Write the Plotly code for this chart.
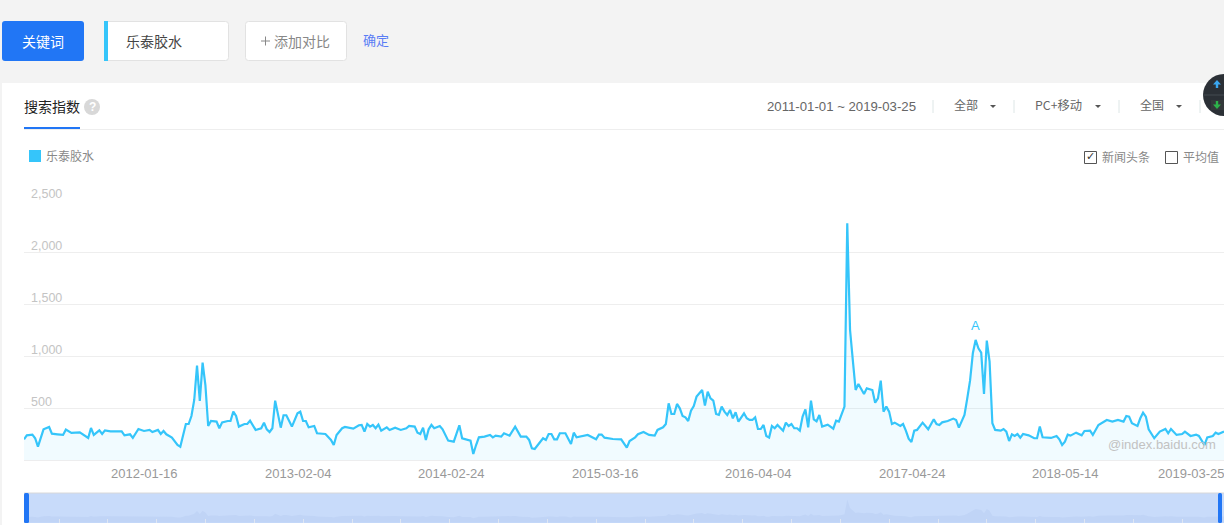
import pandas as pd
import plotly.graph_objects as go

W, H = 1224, 525

SERIES_NAME = "乐泰胶水"
START_MONDAY = "2010-12-27"
END_MONDAY = "2019-03-25"
WEEKS_A = [0,1,3,4,5,6,7,9,10,12,14,15,17,20,23,24,25,27,28,29,31,35,36,38,39,41,43,45,46,48,49,50,51,53,55,56,57,58,59,60,61,62,63,64,65,66,67,69,70,71,73,74,75,76,77,79,80,81,83,85,86,87,88,89,90,91,92,93,94,96,98,99,100,101,102,104,105,108,110,111,112,114,115,118,120,121,122,123,124,125,126,127,128,130,131,133,135,137]
VALUES_A = [202,240,247,212,131,221,298,320,256,250,244,295,263,269,215,311,244,288,253,288,279,279,240,250,215,301,282,292,272,292,253,282,250,218,147,131,228,349,349,426,580,910,570,939,724,330,378,372,308,365,378,378,468,426,324,349,349,381,292,308,362,298,272,308,574,436,314,433,433,324,452,468,378,378,317,330,260,253,196,147,244,308,320,304,337,340,276,349,324,340,308,343,285,317,292,314,292,308]
WEEKS_B = [138,140,141,142,143,144,145,146,147,149,150,152,154,156,157,160,161,162,163,165,167,168,169,171,172,174,176,178,180,181,182,183,185,186,187,188,189,190,191,192,194,196,197,198,202,205,206,207,208,211,214,216,217,219,220,222,224,226,227,229,230,231,232,233,234,235,236,237,238,239,240,241,243,244,245,246,247,248,249,250,251,252,253,254,255,256,258,259,260,261,262,263,264,265,266,267,268,269,270,272,273,274,275,276,277,278,279,280,281,282,283,284,285]
VALUES_B = [330,324,266,253,314,196,298,340,308,330,298,189,179,337,212,189,61,147,221,228,244,221,237,228,260,237,324,228,228,196,115,109,179,212,196,253,253,202,202,260,260,157,266,221,244,202,247,247,218,205,202,122,186,221,250,272,244,237,292,317,349,548,445,445,542,500,426,413,378,478,522,612,676,526,660,596,574,445,436,516,468,436,484,404,462,372,452,404,388,388,413,301,301,340,234,218,330,308,340,285,362,330,349,308,308,285,420,490,317,574,394,375,436]
WEEKS_C = [286,288,290,291,292,293,294,295,296,297,298,299,300,301,302,304,305,306,307,308,309,310,311,312,314,315,316,317,318,319,320,322,324,325,326,327,328,329,331,333,334,335,337,338,339,340,341,342,343,344,345,346,347,348,350,351,352,353,354,355,356,357,358,360,362,363,364,365,368,370,371,372,373,374,375,377,379,380,382,383,385,388,390,392,394,395,396,397,399,400,401,402,403,405,407,409,410,411,413,415,416,418,420,421,423,424,426,427,428,430]
VALUES_C = [324,343,304,381,372,445,516,2279,1253,960,676,734,692,638,692,676,554,596,766,468,516,468,349,362,330,349,285,208,176,285,292,362,298,349,394,349,340,365,378,401,388,314,436,596,766,1029,1157,1077,1035,638,1151,949,356,292,285,301,276,186,250,234,253,218,253,240,212,212,324,221,215,234,202,147,179,247,237,266,240,282,285,244,340,388,372,388,372,426,420,356,330,404,458,420,298,212,276,301,260,301,244,253,276,234,247,234,147,221,234,266,253,276]
Y_TICKS = [500, 1000, 1500, 2000, 2500]
Y_LABELS = ["500", "1,000", "1,500", "2,000", "2,500"]
X_LABELS = ["2012-01-16", "2013-02-04", "2014-02-24", "2015-03-16", "2016-04-04", "2017-04-24", "2018-05-14", "2019-03-25"]
MINI_TICK_START = "2011-03-25"
A_MARK_WEEK = 341

weeks = WEEKS_A + WEEKS_B + WEEKS_C
values = VALUES_A + VALUES_B + VALUES_C
assert len(weeks) == len(values), (len(WEEKS_A), len(VALUES_A), len(WEEKS_B), len(VALUES_B), len(WEEKS_C), len(VALUES_C))
dates = [pd.Timestamp(START_MONDAY) + pd.Timedelta(weeks=w) for w in weeks]
date_txt = [d.strftime("%Y-%m-%d") for d in dates]

CJK = "Noto Sans CJK SC"
LAT = "Liberation Sans"
CYAN = "#35c5fa"
BLUE = "#2176f5"


def px(x):
    return x / W


def py(y):
    return 1 - y / H


shapes = []
ann = []


def rect(x0, y0, x1, y1, fill, line=None, layer="below"):
    shapes.append(dict(type="rect", xref="paper", yref="paper", x0=px(x0), x1=px(x1), y0=py(y1), y1=py(y0),
                       fillcolor=fill, line=dict(color=line or fill, width=1 if line else 0), layer=layer))


def rrect(x0, y0, x1, y1, r, fill, line=None):
    a, b, c, d = px(x0), px(x1), py(y0), py(y1)
    rx, ry = r / W, r / H
    p = (f"M {a+rx} {c} L {b-rx} {c} Q {b} {c} {b} {c-ry} L {b} {d+ry} Q {b} {d} {b-rx} {d} "
         f"L {a+rx} {d} Q {a} {d} {a} {d+ry} L {a} {c-ry} Q {a} {c} {a+rx} {c} Z")
    shapes.append(dict(type="path", xref="paper", yref="paper", path=p, fillcolor=fill,
                       line=dict(color=line or fill, width=1 if line else 0), layer="below"))


def poly(points, fill, layer="above"):
    p = "M " + " L ".join(f"{px(x)} {py(y)}" for x, y in points) + " Z"
    shapes.append(dict(type="path", xref="paper", yref="paper", path=p, fillcolor=fill, line=dict(width=0), layer=layer))


def seg(x0, y0, x1, y1, color, width=1, layer="below"):
    shapes.append(dict(type="line", xref="paper", yref="paper", x0=px(x0), x1=px(x1), y0=py(y0), y1=py(y1),
                       line=dict(color=color, width=width), layer=layer))


def text(x, y, s, size, color, anchor="left", font=CJK):
    if font == CJK:
        y -= 1
    ann.append(dict(xref="paper", yref="paper", x=px(x), y=py(y), text=s, showarrow=False, xanchor=anchor,
                    yanchor="middle", font=dict(family=font, size=size, color=color), borderpad=0, borderwidth=0))


# page
rect(0, 0, W, H, "#f3f3f3")
rect(2, 83, W, H, "#ffffff")
# top controls
rrect(2, 21, 84, 61, 3, BLUE)
text(43, 42, "关键词", 14, "#ffffff", "center")
rrect(104.5, 21.5, 228.5, 60.5, 3, "#ffffff", "#e2e2e2")
rect(104, 21, 108, 61, CYAN)
text(126, 42, SERIES_NAME, 14, "#444444")
rrect(245.5, 21.5, 346.5, 60.5, 3, "#ffffff", "#e2e2e2")
seg(261, 41, 270, 41, "#888888", 1, "above")
seg(265.5, 36.5, 265.5, 45.5, "#888888", 1, "above")
text(274, 42, "添加对比", 14, "#888888")
text(363, 40, "确定", 13, "#5a7df5")
# tab row
text(24, 107, "搜索指数", 14, "#222222")
shapes.append(dict(type="circle", xref="paper", yref="paper", x0=px(84), x1=px(100), y0=py(115), y1=py(99),
                   fillcolor="#d8d8d8", line=dict(width=0), layer="below"))
text(92, 107, "<b>?</b>", 12, "#ffffff", "center", LAT)
seg(24, 129.5, W, 129.5, "#eeeeee", 1)
rect(24, 127, 80, 129, BLUE)
text(767, 106.5, "2011-01-01 ~ 2019-03-25", 13.2, "#666666", "left", LAT)
for sx in (933, 1014, 1119, 1200):
    seg(sx, 100, sx, 113, "#dde6e6", 1)
text(954, 106, "全部", 12, "#666666")
text(1035, 106, "PC+移动", 12.3, "#666666")
text(1140, 106, "全国", 12, "#666666")
for cx in (993, 1098, 1179):
    poly([(cx - 3, 105), (cx + 3, 105), (cx, 108)], "#555555")
# dark floating widget
shapes.append(dict(type="circle", xref="paper", yref="paper", x0=px(1203), x1=px(1245), y0=py(116), y1=py(74),
                   fillcolor="#2b3036", line=dict(width=0), layer="above"))
seg(1203, 95, W, 95, "#454a50", 1, "above")
rect(1211, 100, 1224, 110, "#33393a", layer="above")
poly([(1217, 80), (1221, 84.5), (1218.2, 84.5), (1218.2, 88), (1215.8, 88), (1215.8, 84.5), (1213, 84.5)], "#3aa7f0")
poly([(1217, 109), (1221, 104.5), (1218.2, 104.5), (1218.2, 101), (1215.8, 101), (1215.8, 104.5), (1213, 104.5)], "#2db34a")
# legend row
rect(29, 150, 41, 162, CYAN)
text(46, 156, SERIES_NAME, 12, "#888888")
rect(1084.5, 151.5, 1096.5, 163.5, "#ffffff", "#555555")
text(1090.5, 157, "<b>✓</b>", 11, "#333333", "center", "DejaVu Sans")
text(1102, 158, "新闻头条", 12, "#888888")
rect(1165.5, 151.5, 1177.5, 163.5, "#ffffff", "#555555")
text(1183, 158, "平均值", 12, "#888888")
# axis labels
for v, lab in zip(Y_TICKS, Y_LABELS):
    ann.append(dict(xref="paper", yref="y", x=px(29), y=v, yshift=-3, text=lab, showarrow=False, xanchor="left", yanchor="bottom",
                    font=dict(family=LAT, size=12.5, color="#c4c4c4")))
for lab in X_LABELS:
    ann.append(dict(xref="x", yref="paper", x=lab, y=py(473), xshift=3, text=lab, showarrow=False, xanchor="right",
                    yanchor="middle", font=dict(family=LAT, size=13, color="#999999")))
ann.append(dict(xref="x", yref="y", x=(pd.Timestamp(START_MONDAY) + pd.Timedelta(weeks=A_MARK_WEEK)).strftime("%Y-%m-%d"),
                y=1157, yshift=14, text="A", showarrow=False, font=dict(family=LAT, size=13, color=CYAN)))
text(1216, 444.5, "@index.baidu.com", 13, "#c2c2c2", "right", LAT)
# minimap
rect(24, 493, W, 523, "#c8dbfa")
seg(24, 493, W, 493, "#d8d8d8", 1, "above")
rrect(24, 493, 29, 523, 1.5, BLUE)
shapes[-1]["layer"] = "above"
rrect(1218, 493, 1222, 523, 1.5, BLUE)
shapes[-1]["layer"] = "above"

MINI_FLOOR = -470
fig = go.Figure()
fig.add_trace(go.Scatter(x=date_txt, y=values, mode="lines", name=SERIES_NAME, line=dict(color=CYAN, width=2.2),
                         fill="tozeroy", fillcolor="rgba(53,197,250,0.07)", hoverinfo="skip"))
fig.add_trace(go.Scatter(x=[date_txt[0], date_txt[-1]], y=[MINI_FLOOR, MINI_FLOOR], xaxis="x2", yaxis="y2",
                         mode="lines", line=dict(width=0), hoverinfo="skip"))
fig.add_trace(go.Scatter(x=date_txt, y=values, xaxis="x2", yaxis="y2", mode="lines", line=dict(width=0),
                         fill="tonexty", fillcolor="#c0d4f6", hoverinfo="skip"))

rng = [START_MONDAY, END_MONDAY]
fig.update_layout(
    width=W, height=H, autosize=False, margin=dict(l=0, r=0, t=0, b=0), showlegend=False,
    paper_bgcolor="#ffffff", plot_bgcolor="rgba(0,0,0,0)", shapes=shapes, annotations=ann,
    font=dict(family=CJK),
    xaxis=dict(domain=[px(24), 1], range=rng, type="date", showgrid=False, showticklabels=False, ticks="",
               showline=False, zeroline=False, fixedrange=True),
    yaxis=dict(domain=[py(460.3), py(200.3)], range=[0, 2500], tickvals=Y_TICKS, showticklabels=False, ticks="",
               gridcolor="#eeeeee", gridwidth=1, zeroline=True, zerolinecolor="#eeeeee", zerolinewidth=1,
               showline=False, fixedrange=True),
    xaxis2=dict(domain=[px(24), 1], range=rng, type="date", anchor="y2", showgrid=False, showticklabels=False,
                ticks="inside", ticklen=4, tickcolor="#dfe6f2", tickwidth=1, showline=False, zeroline=False,
                tick0=MINI_TICK_START, dtick=17.5 * 7 * 86400000, fixedrange=True),
    yaxis2=dict(domain=[py(522.7), py(493.3)], range=[MINI_FLOOR, 3000], showgrid=False, showticklabels=False,
                ticks="", showline=False, zeroline=False, fixedrange=True),
)
fig.write_html("out.html", config=dict(displayModeBar=False),
               post_script="document.body.style.margin='0';document.body.style.overflow='hidden';")
